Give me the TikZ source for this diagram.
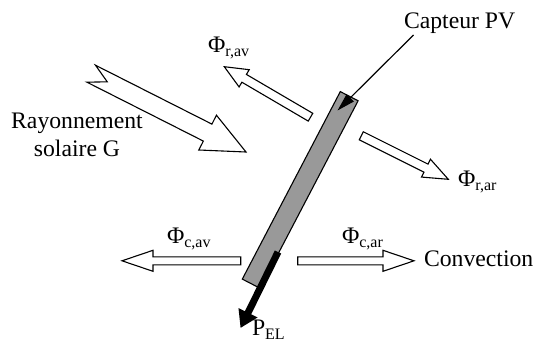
\documentclass[tikz,border=0pt]{standalone}
\usepackage{fontspec}
\setmainfont{Liberation Serif}
\usetikzlibrary{calc,arrows.meta}

\definecolor{panelgray}{HTML}{999999}

%% subscript of the flux labels
\newcommand{\idx}[1]{\raisebox{-4pt}{\fontsize{16}{16}\selectfont #1}}

%% hollow block arrow: tail, tip, half shaft, half head, head length, notch
\newcommand{\blockarrow}[6]{%
  \coordinate (#2neck) at ($(#2)!#5!(#1)$);
  \coordinate (#1notch) at ($(#1)!#6!(#2)$);
  \draw[hollow] ($(#1)!#3!90:(#2)$) -- ($(#2neck)!#3!90:(#2)$)
    -- ($(#2neck)!#4!90:(#2)$) -- (#2) -- ($(#2neck)!#4!-90:(#2)$)
    -- ($(#2neck)!#3!-90:(#2)$) -- ($(#1)!#3!-90:(#2)$) -- (#1notch) -- cycle;}

\begin{document}
\begin{tikzpicture}[x=1pt, y=-1pt]
      \tikzset
      {
      lbl/.style = {inner sep=0pt, outer sep=0pt, font=\fontsize{23.7}{28.4}\selectfont},
      hollow/.style = {draw=black, fill=white, line width=1.1pt, line join=miter},
      panel/.style = {draw=black, fill=panelgray, line width=1.1pt},
      }
      \useasboundingbox (0,0) rectangle (534,343);
      %% Arrow ends
      \coordinate (suntail) at (91.2,73.7);
      \coordinate (suntip) at (246,152);
      \coordinate (ravtail) at (310.5,117.2);
      \coordinate (ravtip) at (224.3,66.7);
      \coordinate (rartail) at (361.3,135.8);
      \coordinate (rartip) at (448.3,179.3);
      \coordinate (cavtail) at (240.7,260.8);
      \coordinate (cavtip) at (122,260.8);
      \coordinate (cartail) at (297.7,260.8);
      \coordinate (cartip) at (414,260.8);
      %% Flux arrows
      \blockarrow{suntail}{suntip}{9.5pt}{19.5pt}{43pt}{18pt}
      \blockarrow{ravtail}{ravtip}{4.5pt}{10pt}{23pt}{0pt}
      \blockarrow{rartail}{rartip}{4.5pt}{10pt}{25pt}{0pt}
      \blockarrow{cavtail}{cavtip}{4pt}{10.5pt}{31pt}{0pt}
      \blockarrow{cartail}{cartip}{4pt}{10.5pt}{31pt}{0pt}
      %% PV panel
      \coordinate (ptl) at (340.3,91.6);
      \coordinate (ptr) at (358.1,100.8);
      \coordinate (pbr) at (260.1,288.3);
      \coordinate (pbl) at (242.3,279.1);
      \draw[panel] (ptl) -- (ptr) -- (pbr) -- (pbl) -- cycle;
      %% Electrical output
      \coordinate (elstart) at (278,252);
      \coordinate (eltip) at (240.5,328);
      \draw[line width=7pt, -{Triangle[length=17pt, width=20pt]}] (elstart) -- (eltip);
      %% Labels
      \node[lbl, anchor=base west] (capteur) at (404,28) {Capteur PV};
      \node[lbl, anchor=base, align=center] (rayon) at (77,156.7) {Rayonnement\\solaire G};
      \node[lbl, anchor=base west] (phirav) at (208,52) {Φ\idx{r,av}};
      \node[lbl, anchor=base west] (phirar) at (458,186) {Φ\idx{r,ar}};
      \node[lbl, anchor=base west] (phicav) at (167,243) {Φ\idx{c,av}};
      \node[lbl, anchor=base west] (phicar) at (342,243) {Φ\idx{c,ar}};
      \node[lbl, anchor=base west] (conv) at (424,266) {Convection};
      \node[lbl, anchor=base west] (pel) at (252,335) {P\idx{EL}};
      %% Pointer to the panel
      \coordinate (pvstart) at (413.5,35);
      \coordinate (pvtip) at (337.5,110.5);
      \draw[line width=1.2pt, -{Triangle[length=18pt, width=10pt]}] (pvstart) -- (pvtip);
\end{tikzpicture}
\end{document}
